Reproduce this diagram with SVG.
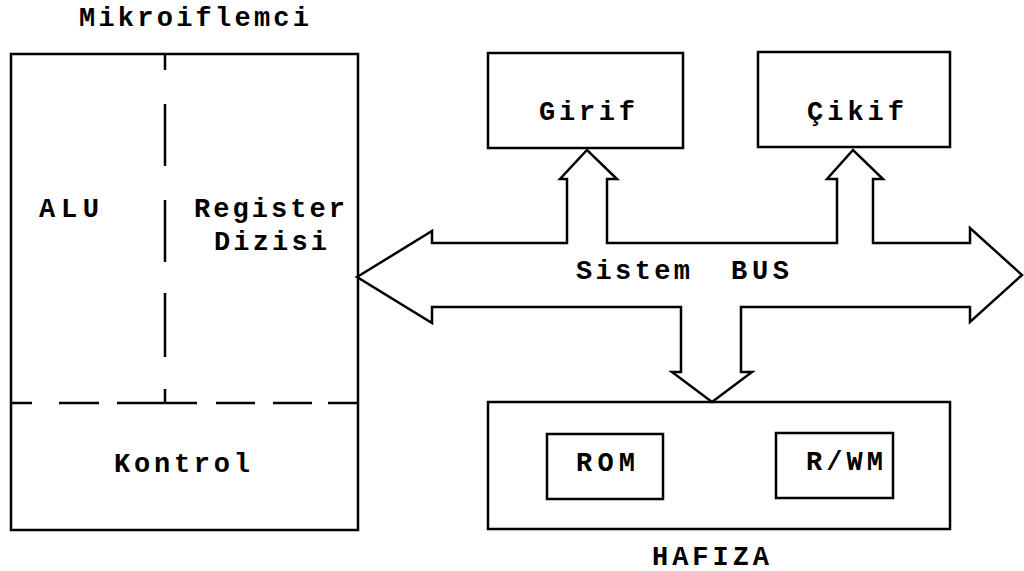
<svg xmlns="http://www.w3.org/2000/svg" width="1024" height="571" viewBox="0 0 1024 571">
<style>
.box{fill:none;stroke:#000;stroke-width:2.5}
.ln{fill:none;stroke:#000;stroke-width:2.5}
.t{font-family:"Liberation Mono","DejaVu Sans Mono",monospace;font-size:27px;font-weight:bold;fill:#000}
</style>
<rect width="1024" height="571" fill="#fff"/>
<g id="cpu">
<text class="t" x="79" y="26" textLength="230" lengthAdjust="spacing">Mikroiflemci</text>
<rect class="box" x="11" y="54" width="347" height="476"/>
<path class="ln" d="M165,54V70 M165,104V166 M165,200V262 M165,293V357 M165,389V403 M11,403H32 M59,403H99 M117,403H197 M216,403H255 M273,403H312 M328,403H358"/>
<text class="t" x="39" y="217" textLength="60" lengthAdjust="spacing">ALU</text>
<text class="t" x="194" y="217" textLength="151" lengthAdjust="spacing">Register</text>
<text class="t" x="214" y="250" textLength="113" lengthAdjust="spacing">Dizisi</text>
<text class="t" x="114" y="472" textLength="136" lengthAdjust="spacing">Kontrol</text>
</g>
<g id="girif">
<rect class="box" x="488" y="53" width="195" height="95"/>
<text class="t" x="539" y="120" textLength="96" lengthAdjust="spacing">Girif</text>
</g>
<g id="cikif">
<rect class="box" x="758" y="52" width="192" height="95"/>
<text class="t" x="807" y="120" textLength="97" lengthAdjust="spacing">Çikif</text>
</g>
<g id="hafiza">
<rect class="box" x="488" y="402" width="462" height="127"/>
<rect class="box" x="547" y="434" width="116" height="65"/>
<text class="t" x="576" y="471" textLength="59" lengthAdjust="spacing">ROM</text>
<rect class="box" x="776" y="433" width="117" height="65"/>
<text class="t" x="806" y="470" textLength="77" lengthAdjust="spacing">R/WM</text>
<text class="t" x="652" y="565" textLength="117" lengthAdjust="spacing">HAFIZA</text>
</g>
<g id="connectors">
<path class="ln" stroke-linejoin="miter" d="M357,277 L432,231 L432,243 L567,243 L567,179 L560,179 L587,150 L617,179 L607,179 L607,243 L837,243 L837,179 L827,179 L853,150 L883,179 L873,179 L873,243 L970,243 L970,228 L1022,275 L970,322 L970,307 L741,307 L741,372 L752,372 L712,402 L672,372 L681,372 L681,307 L432,307 L432,323 Z"/>
<text class="t" x="576" y="279" textLength="114" lengthAdjust="spacing">Sistem</text>
<text class="t" x="731" y="279" textLength="58" lengthAdjust="spacing">BUS</text>
</g>
</svg>
